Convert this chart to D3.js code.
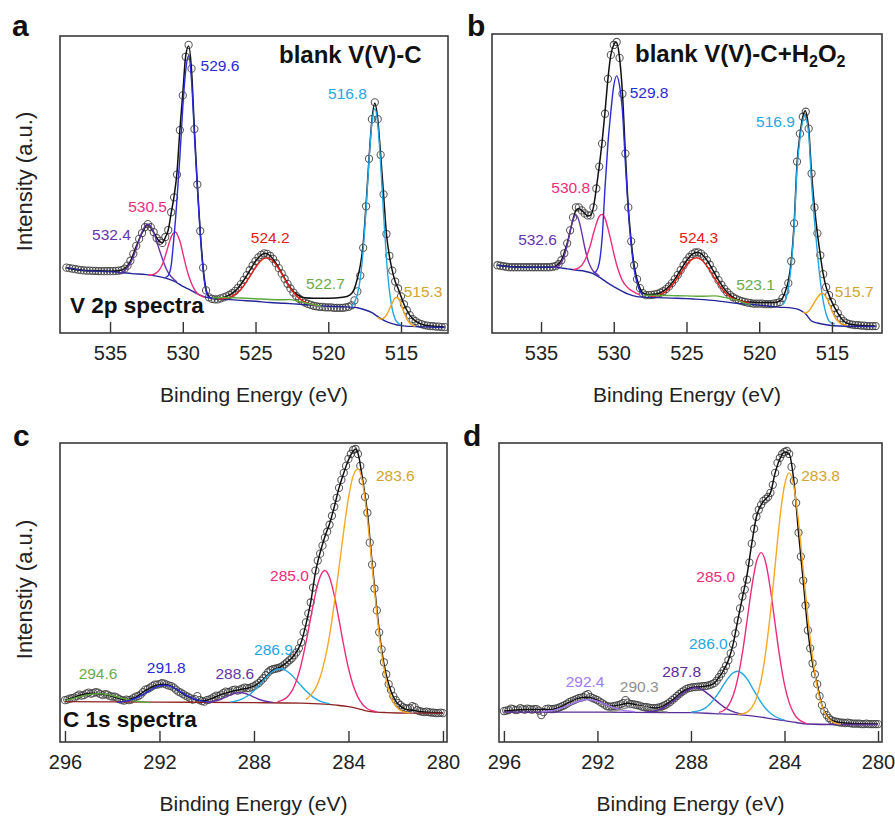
<!DOCTYPE html>
<html>
<head>
<meta charset="utf-8">
<script src="https://cdn.jsdelivr.net/npm/d3@7"></script>
<style>
  body { margin: 0; background: #fff; }
  svg text { font-family: "Liberation Sans", Arial, Helvetica, sans-serif; }
</style>
</head>
<body>
<svg id="fig" width="895" height="816"></svg>
<script>
// ---------------------------------------------------------------------------
// Axis ticks (binding energy, eV)
const v2pTicks = [535, 530, 525, 520, 515];
const c1sTicks = [296, 292, 288, 284, 280];

// Measured spectra are sampled on regular binding-energy grids.
const v2pGridStart = 538.0, v2pGridStep = 0.2;
const c1sGridStart = 296.0, c1sGridStep = 0.1;

// V 2p, blank V(V)-C : counts (a.u.) from 538.0 eV down to 512.0 eV
const blankV2pMeasured = [
  66, 65.5, 65, 64.5, 64, 63.5, 63.2, 63, 63, 62.8,            // 538.0
  62.8, 62.6, 62.5, 62.5, 62.5, 62.5, 62.5, 62.7, 63, 63.5,    // 536.0
  65, 68, 73, 80, 88, 95, 101, 107, 110, 107,                  // 534.0
  102, 96, 93, 91, 97, 104, 122, 137, 160, 205,                // 532.0
  240, 279, 291, 267, 206, 150, 103, 66, 43, 36,               // 530.0
  34.5, 34, 34, 35, 36, 37, 38.4, 40.2, 42.6, 45.7,            // 528.0
  49.4, 53.7, 58.4, 63.4, 68.2, 72.7, 76.4, 78.9, 80.5, 80,    // 526.0
  78, 75, 70.5, 65.5, 60.2, 54.8, 49.7, 45, 40.9, 37.4,        // 524.0
  34.6, 32.4, 30.7, 29.4, 28.5, 27.5, 27, 26.5, 26.5, 26,      // 522.0
  26, 26, 25.5, 25.5, 25.5, 25.5, 26, 26.5, 28, 33,            // 520.0
  42, 58, 86, 128, 176, 216, 233, 216, 180, 140,               // 518.0
  100, 78, 63, 52, 45, 37, 29, 23, 18, 14,                     // 516.0
  12, 10, 9, 8, 7.5, 7, 7, 6.5, 6.5, 6,                        // 514.0
  6                                                            // 512.0
];

// V 2p, blank V(V)-C + H2O2
const h2o2V2pMeasured = [
  68, 67.5, 67, 66.5, 66, 66, 66, 66, 66, 66,                  // 538.0
  66, 66, 66, 66, 66, 66, 66, 66, 66, 66.5,                    // 536.0
  67, 69, 73, 80, 90, 103, 116, 126, 126, 123,                 // 534.0
  120, 118, 118, 126, 145, 167, 190, 220, 255, 279,            // 532.0
  289, 292, 276, 240, 180, 126, 92, 68, 54, 45,                // 530.0
  40, 38, 38, 38.3, 38.8, 39.3, 40.4, 41.9, 44, 46.7,          // 528.0
  50, 54, 58.4, 63.2, 68, 72.5, 76.3, 79.2, 80.8, 81,          // 526.0
  79.6, 76.9, 73.1, 68.5, 63.4, 58.2, 53, 48.4, 44.3, 40.9,    // 524.0
  38, 35.9, 34.2, 32.9, 31.9, 31.3, 30.5, 30, 29.5, 29.5,      // 522.0
  29.5, 29.5, 29, 29, 29, 29.5, 30, 31, 35, 42,                // 520.0
  50, 72, 110, 172, 200, 217, 222, 205, 160, 126,              // 518.0
  100, 78, 59, 46, 38, 31, 25, 20, 15, 12,                     // 516.0
  10, 9, 8.5, 8, 8, 7.5, 7.5, 7, 7, 7,                         // 514.0
  7                                                            // 512.0
];

// C 1s, blank : counts (a.u.) from 296.0 eV down to 280.0 eV, every 0.1 eV
const blankC1sMeasured = [
  42, 42.5, 43.5, 44, 44.5, 46, 47.5, 46.5, 47, 48.5,          // 296.0
  49.5, 48.5, 49, 50, 49.5, 48, 47, 48, 47.5, 46,              // 295.0
  45.5, 45.5, 44.5, 43, 42, 41.5, 42.5, 42, 42.5, 44,          // 294.0
  45.5, 46, 47.5, 50, 52.5, 53, 54.5, 56, 57.5, 57.5,          // 293.0
  58, 59, 58.5, 57.5, 56.5, 56, 54.5, 52.5, 50.5, 49.5,        // 292.0
  48, 46.5, 45.5, 44, 42.5, 43, 46, 42, 41, 40.5,              // 291.0
  42, 42.5, 43.5, 45, 46.5, 46, 47.5, 49, 50.5, 50,            // 290.0
  50.5, 52, 52.5, 51.5, 52.5, 53.5, 54.5, 54, 54, 55,          // 289.0
  56, 57.5, 59, 61.5, 64, 67, 70, 72, 73, 73.5,                // 288.0
  74, 75, 76, 78, 80, 82, 84, 87, 90, 94,                      // 287.0
  100, 110, 120, 129, 140, 155, 172, 182, 189, 197,            // 286.0
  205, 211, 218, 227, 236, 245, 255, 263, 270, 277,            // 285.0
  284, 289, 293, 294, 289, 277, 262, 246, 230, 200,            // 284.0
  178, 154, 132, 110, 93, 80, 68, 58, 52, 46,                  // 283.0
  42, 39, 37, 35, 34, 33.5, 34, 36, 35, 32,                    // 282.0
  31, 30.5, 30, 30.5, 30, 29.5, 29.5, 29, 29, 29.5,            // 281.0
  29                                                           // 280.0
];

// C 1s, + H2O2
const h2o2C1sMeasured = [
  31, 31.5, 32, 33.5, 33, 32, 32.5, 34, 33, 32.5,              // 296.0
  33.5, 33, 32.5, 33, 33, 31.5, 27, 30, 33, 33.5,              // 295.0
  33, 33, 33.5, 34, 35, 36, 37, 38.5, 40, 41,                  // 294.0
  42, 43, 44, 44.5, 45, 47, 48, 45, 44, 43,                    // 293.0
  42, 40.5, 39, 37.5, 36, 35.5, 35.5, 36, 36.5, 37,            // 292.0
  38, 39, 42, 39.5, 38, 38, 37.5, 37, 36.5, 35.5,              // 291.0
  35, 35, 34.5, 34, 34, 34, 34.5, 35, 36, 37,                  // 290.0
  38.5, 40, 42, 44, 46, 48, 50, 51.5, 53, 54,                  // 289.0
  54.5, 55, 55, 55.5, 55.5, 56, 56, 56.5, 57, 58,              // 288.0
  59, 61.5, 65, 68.5, 72, 76.5, 82, 89, 98, 109,               // 287.0
  122, 134, 146, 153, 163, 180, 199, 214, 226, 233,            // 286.0
  238, 242, 244, 246, 250, 258, 270, 280, 285, 289,            // 285.0
  291, 292, 289, 276, 262, 240, 210, 186, 162, 137,            // 284.0
  112, 94, 79, 68, 58, 46, 37, 31, 27, 24,                     // 283.0
  22, 21, 20.5, 20, 19.5, 19.5, 19, 19.5, 19, 18.5,            // 282.0
  18.5, 18.5, 18.5, 18, 18, 18.5, 18, 18, 18, 18,              // 281.0
  18                                                           // 280.0
];

// Fit envelopes [binding energy, counts]
const blankV2pEnvelope = [[538.0,66],[537.0,63.5],[536.0,62.8],[535.0,62.5],[534.4,63],[534.0,65],[533.6,72.5],[533.2,87.5],[532.8,101],[532.4,109.5],[532.0,101.5],[531.6,92.5],[531.4,91],[531.2,96.5],[531.0,104],[530.8,121],[530.6,138],[530.4,162],[530.2,205],[530.0,242],[529.8,280],[529.6,290],[529.4,266],[529.2,205],[529.0,150],[528.8,102],[528.6,66],[528.4,44],[528.2,37],[528.0,35],[527.6,34.5],[527.0,37],[526.6,40],[526.2,45.5],[525.8,53.5],[525.4,63],[525.0,72.5],[524.6,79],[524.3,80.5],[524.0,78],[523.6,70.5],[523.2,60.5],[522.8,50],[522.4,42],[522.0,37.5],[521.6,35.5],[521.0,35],[520.0,35],[519.0,36],[518.5,38.5],[518.2,45],[518.0,55],[517.8,68],[517.6,90],[517.4,130],[517.2,176],[517.0,215],[516.8,232],[516.6,216],[516.4,180],[516.2,140],[516.0,100],[515.8,78],[515.6,63],[515.4,52],[515.2,45],[515.0,37],[514.8,29],[514.6,23],[514.4,18],[514.0,12],[513.6,9],[513.0,7],[512.0,6]];

const h2o2V2pEnvelope = [[538.0,68],[537.0,66.5],[536.0,66],[535.0,66],[534.2,66],[534.0,67],[533.6,73],[533.2,90],[532.8,114],[532.6,123],[532.4,125],[532.2,123],[532.0,120],[531.8,117.5],[531.6,118],[531.4,126],[531.2,145],[531.0,167],[530.8,192],[530.6,222],[530.4,255],[530.2,279],[530.0,289],[529.85,292],[529.6,276],[529.4,240],[529.2,180],[529.0,126],[528.8,92],[528.6,68],[528.4,54],[528.2,45],[528.0,40],[527.6,38.5],[527.0,39.3],[526.6,42],[526.2,46.7],[525.8,54],[525.4,63.2],[525.0,72.5],[524.6,79.2],[524.25,81],[524.0,79.6],[523.6,73.1],[523.2,63.4],[522.8,53],[522.4,44.3],[522.0,38],[521.6,34.2],[521.2,32],[520.6,31],[520.0,30.5],[519.0,30.5],[518.6,32],[518.4,35],[518.2,42],[518.0,52],[517.8,72],[517.6,110],[517.4,170],[517.2,199],[517.0,217],[516.85,223],[516.6,205],[516.4,160],[516.2,126],[516.0,100],[515.8,78],[515.6,59],[515.4,46],[515.2,38],[515.0,31],[514.6,20],[514.2,12],[513.8,9],[513.0,7.5],[512.0,7]];

const blankC1sEnvelope = [[296.0,42],[295.6,45],[295.2,48],[294.8,49],[294.4,48],[294.0,46],[293.6,43],[293.4,42.5],[293.0,45],[292.6,51.5],[292.2,56.5],[291.9,58],[291.6,57],[291.2,51.5],[290.8,45.5],[290.4,42],[290.1,41.5],[289.8,43.5],[289.4,47.5],[289.0,50.5],[288.6,52.5],[288.2,54.5],[288.0,56],[287.6,63],[287.2,72],[286.9,75],[286.6,80],[286.3,87],[286.0,100],[285.8,118],[285.6,140],[285.4,170],[285.2,190],[285.0,206],[284.8,219],[284.6,236],[284.4,255],[284.2,270],[284.0,283],[283.8,292],[283.7,294],[283.6,290],[283.4,263],[283.2,230],[283.0,180],[282.8,133],[282.6,93],[282.4,67],[282.2,51],[282.0,41],[281.8,36],[281.6,33],[281.2,31.5],[280.8,30],[280.0,29]];

const h2o2C1sEnvelope = [[296.0,31],[295.0,32.5],[294.0,32.5],[293.6,35],[293.2,40],[292.8,44],[292.5,45],[292.2,44],[291.8,39.5],[291.4,36],[291.0,37.5],[290.7,39],[290.3,37],[289.8,34.5],[289.5,34],[289.2,36],[288.8,42],[288.4,50],[288.0,54.5],[287.6,55.5],[287.2,57],[287.0,59],[286.8,65],[286.6,72],[286.4,82],[286.2,98],[286.0,122],[285.8,145],[285.6,168],[285.4,199],[285.2,226],[285.0,238],[284.8,244],[284.6,250],[284.4,270],[284.2,284],[284.0,291],[283.8,289],[283.6,262],[283.4,210],[283.2,162],[283.0,112],[282.8,79],[282.6,58],[282.4,37],[282.2,27],[282.0,22],[281.6,19.5],[281.0,18.5],[280.0,18]];

// Fitted peak components: centre (eV) and the component curve [eV, counts]
const blankV2pCenters = [532.4, 530.5, 529.6, 524.2, 522.7, 516.8, 515.3];
const blankV2pCurves = [
  [[534.4,60],[534.0,63],[533.8,66],[533.6,70.5],[533.4,77],[533.2,85],[533.0,94],[532.8,102],[532.6,108],[532.4,110],[532.2,108],[532.0,101.5],[531.8,93],[531.6,83.5],[531.4,75],[531.2,67],[531.0,61],[530.8,57],[530.6,54],[530.4,51.5]],
  [[532.4,59],[532.2,58.5],[531.8,61],[531.6,64],[531.4,69.5],[531.2,78],[531.0,88],[530.8,97],[530.6,101.5],[530.5,102],[530.4,100],[530.2,93],[530.0,81],[529.8,68.5],[529.6,58],[529.4,50],[529.2,44],[529.0,40],[528.8,38],[528.5,36]],
  [[531.2,56],[531.0,58],[530.8,68],[530.6,98],[530.5,115],[530.4,135],[530.2,178],[530.0,228],[529.8,265],[529.6,280],[529.4,255],[529.2,200],[529.0,147],[528.8,100],[528.6,63],[528.4,42],[528.2,36],[528.0,35]],
  [[527.6,34.4],[527.2,34.7],[526.8,36],[526.4,39],[526.0,44.3],[525.6,52.2],[525.2,61.6],[524.8,70.2],[524.4,75.4],[524.2,75.9],[524.0,75],[523.6,69.2],[523.2,59.8],[522.8,49.6],[522.4,41.1],[522.0,35],[521.6,31.2],[521.2,29.3],[520.8,27.8]],
  [[528.0,35.5],[527.0,35.8],[526.0,35.3],[525.0,34.6],[524.0,33.8],[523.4,33.6],[522.7,33.7],[522.0,31.8],[521.5,30],[521.0,28.5],[520.5,27.3]],
  [[518.4,26.5],[518.2,31],[518.0,39],[517.8,55],[517.6,84],[517.4,126],[517.2,174],[517.0,212],[516.8,226.5],[516.6,211],[516.4,171],[516.2,120],[516.0,75],[515.8,43],[515.6,24],[515.4,14],[515.2,10],[515.0,8]],
  [[516.6,16],[516.4,14],[516.2,15],[516.0,18],[515.8,24],[515.6,30.4],[515.4,35.5],[515.3,36],[515.2,35.3],[515.0,29.4],[514.8,21.3],[514.6,14],[514.4,10],[514.2,7.8],[514.0,6.7]]
];
const blankV2pBackground = [[538.0,66],[537.0,63.5],[536.0,62.5],[535.0,62],[534.2,61],[533.5,60],[532.5,59],[531.8,57.5],[531.2,55.5],[530.6,52.5],[530.0,47],[529.5,43.5],[529.0,39.5],[528.5,36.5],[528.0,35],[527.0,34],[526.0,33],[525.0,32],[524.0,30.8],[523.0,30],[522.0,29],[521.0,28],[520.0,27],[519.0,26.5],[518.0,25.5],[517.5,23.5],[517.0,20.5],[516.5,15.5],[516.0,11.5],[515.5,9],[515.0,7.5],[514.0,6.5],[513.0,6],[512.0,5.5]];

const h2o2V2pCenters = [532.6, 530.8, 529.8, 524.3, 523.1, 516.9, 515.7];
const h2o2V2pCurves = [
  [[534.2,66],[534.0,66],[533.8,67.5],[533.6,70.5],[533.4,77.5],[533.2,88.5],[533.0,102],[532.8,113.5],[532.6,118.5],[532.4,113],[532.2,100.7],[532.0,86.3],[531.8,74.4],[531.6,66.7],[531.4,62],[531.2,59.6],[531.0,57]],
  [[532.8,63.5],[532.4,65.3],[532.0,72.5],[531.8,79.5],[531.6,88.5],[531.4,99.8],[531.2,109.5],[531.0,117],[530.8,119],[530.6,115],[530.4,105],[530.2,93],[530.0,80],[529.8,68.5],[529.6,59.5],[529.4,52.5],[529.2,48],[529.0,45],[528.6,41],[528.2,38]],
  [[531.4,60],[531.2,62],[531.0,70],[530.8,95],[530.6,146],[530.4,190],[530.2,222],[530.0,248],[529.8,258],[529.6,248],[529.4,222],[529.2,170],[529.0,122],[528.8,88],[528.6,64],[528.4,50],[528.2,42],[528.0,38]],
  [[527.5,36.7],[527.1,37.3],[526.7,39.3],[526.3,43.1],[525.9,49.4],[525.5,57.7],[525.1,66.4],[524.7,73.1],[524.3,75.5],[523.9,72.5],[523.5,65.2],[523.1,55.7],[522.7,46.8],[522.3,39.9],[521.9,35.5],[521.5,32.9],[521.1,31.5],[520.7,30.6]],
  [[528.0,38],[527.0,37.8],[526.0,37.5],[525.0,37.2],[524.0,36.8],[523.1,37.2],[522.4,35.8],[522.0,34.5],[521.5,33],[521.0,30],[520.6,28.5]],
  [[518.4,28],[518.2,33],[518.0,45],[517.8,68],[517.6,106],[517.4,165],[517.2,195],[517.0,213],[516.9,218],[516.8,216],[516.6,200],[516.4,150],[516.2,112],[516.0,80],[515.8,52],[515.6,32],[515.4,19],[515.2,12],[515.0,10],[514.8,9]],
  [[517.0,21],[516.8,20],[516.6,22],[516.4,26],[516.2,31],[516.0,35.5],[515.8,39],[515.7,40],[515.6,39.5],[515.4,36],[515.2,30],[515.0,22],[514.8,16],[514.6,12],[514.4,9.5],[514.2,8.5],[514.0,8]]
];
const h2o2V2pBackground = [[538.0,68],[537.5,67],[537.0,66.5],[536.0,66],[535.0,66],[534.2,66],[533.5,65],[533.0,64],[532.5,63],[532.0,62],[531.5,60],[531.0,56],[530.5,51],[530.0,46.5],[529.5,42.5],[529.0,39],[528.4,36.5],[528.0,36],[527.0,35.5],[526.0,35],[525.0,34.5],[524.4,34],[523.0,32.5],[522.0,30.5],[521.7,30],[520.0,28],[518.7,26],[517.7,25],[517.2,23],[516.8,19],[516.4,12],[516.0,10],[515.3,8],[514.5,7],[512.0,6.5]];

const blankC1sCenters = [294.6, 291.8, 288.6, 286.9, 285.0, 283.6];
const blankC1sCurves = [
  [[296.0,41.8],[295.8,42.8],[295.6,44],[295.4,45.3],[295.2,46.5],[295.0,47.5],[294.8,48.3],[294.6,48.5],[294.4,48.3],[294.2,47.5],[294.0,46.5],[293.8,45.3],[293.6,44],[293.4,42.8],[293.2,41.8],[293.0,41],[292.8,40.4],[292.6,40],[292.4,39.7]],
  [[293.8,39.9],[293.6,40.3],[293.4,41],[293.2,42.2],[293.0,43.9],[292.8,46.2],[292.6,49],[292.4,51.9],[292.2,54.5],[292.0,56.3],[291.8,57],[291.6,56.3],[291.4,54.5],[291.2,51.9],[291.0,49],[290.8,46.2],[290.6,43.9],[290.4,42.2],[290.2,41],[290.0,40.3],[289.8,39.9]],
  [[290.0,39.8],[289.8,40.4],[289.6,41.4],[289.4,42.9],[289.2,45],[289.0,47.2],[288.8,48.9],[288.6,49.5],[288.4,48.9],[288.2,47.2],[288.0,45],[287.8,42.9],[287.6,41.4],[287.4,40.4],[287.2,39.8]],
  [[289.0,40],[288.8,41],[288.6,42.3],[288.4,44.4],[288.2,47.4],[288.0,51.5],[287.8,56.4],[287.6,61.8],[287.4,66.9],[287.2,71],[287.0,73.2],[286.9,73.5],[286.8,73.2],[286.6,71],[286.4,66.9],[286.2,61.8],[286.0,56.4],[285.8,51.3],[285.6,47],[285.4,43.5],[285.2,41],[285.0,39.5],[284.8,38.5]],
  [[287.0,40.4],[286.8,42],[286.6,45],[286.4,51],[286.2,61.6],[286.0,78],[285.8,99.6],[285.6,124.6],[285.4,148.4],[285.2,165.8],[285.0,172],[284.8,165],[284.6,147],[284.4,122.5],[284.2,96.8],[284.0,74],[283.8,56.6],[283.6,45],[283.4,37.6],[283.2,33.4],[283.0,31.4],[282.8,30]],
  [[285.8,42.6],[285.6,47],[285.4,53.5],[285.2,65],[285.0,82.6],[284.8,107],[284.6,139],[284.4,175],[284.2,212],[284.0,245],[283.8,267],[283.6,274],[283.4,260],[283.2,224],[283.0,176.5],[282.8,129],[282.6,89.5],[282.4,62],[282.2,45],[282.0,36],[281.8,31.7],[281.6,30],[281.4,29]]
];
const blankC1sBackground = [[296.0,40.5],[292.0,40],[288.0,39.5],[286.0,39],[285.0,38],[284.5,37],[284.0,35.5],[283.6,33.5],[283.2,31],[282.8,30],[282.4,29.5],[281.5,29],[280.0,29]];

const h2o2C1sCenters = [292.4, 290.3, 287.8, 286.0, 285.0, 283.8];
const h2o2C1sCurves = [
  [[294.4,30.4],[294.2,30.8],[294.0,31.4],[293.8,32.3],[293.6,33.6],[293.4,35.3],[293.2,37.2],[293.0,39.2],[292.8,40.9],[292.6,42.1],[292.4,42.5],[292.2,42.1],[292.0,40.9],[291.8,39.2],[291.6,37.2],[291.4,35.3],[291.2,33.6],[291.0,32.3],[290.8,31.4],[290.6,30.8],[290.4,30.4]],
  [[291.6,30.2],[291.3,31],[291.0,32.6],[290.7,34.6],[290.5,35.5],[290.3,35.8],[290.1,35.5],[289.9,34.6],[289.6,32.6],[289.3,31],[289.0,30.2]],
  [[290.0,29.9],[289.8,30.3],[289.6,31],[289.4,32.3],[289.2,34.1],[289.0,36.7],[288.8,40.1],[288.6,43.9],[288.4,47.8],[288.2,51.3],[288.0,53.7],[287.8,54.5],[287.6,53.2],[287.4,50.6],[287.2,47],[287.0,42.9],[286.8,38.9],[286.6,35.3],[286.4,32.5],[286.2,30.5],[286.0,29],[285.8,27.8]],
  [[288.0,30],[287.8,30.6],[287.6,31.7],[287.4,34],[287.2,37.8],[287.0,43.2],[286.8,50],[286.6,57.5],[286.4,64.4],[286.2,69.3],[286.0,71],[285.8,68.6],[285.6,63.3],[285.4,55.4],[285.2,47.2],[285.0,39.7],[284.8,33.4],[284.6,28.9],[284.4,25.6],[284.2,23.5],[284.0,22.1]],
  [[286.8,29.7],[286.6,31.6],[286.4,36.4],[286.2,46.3],[286.0,63.5],[285.8,89.4],[285.6,122],[285.4,155.4],[285.2,180.8],[285.0,190],[284.8,179.6],[284.6,153],[284.4,118.3],[284.2,84.6],[284.0,57.5],[283.8,39.5],[283.6,28.7],[283.4,22.8],[283.2,20],[283.0,18]],
  [[286.0,27.6],[285.8,28.2],[285.6,30],[285.4,34.5],[285.2,44],[285.0,62],[284.8,91],[284.6,130],[284.4,177.5],[284.2,224],[284.0,257.5],[283.8,270],[283.6,256.5],[283.4,221.5],[283.2,173.5],[283.0,125],[282.8,85],[282.6,55],[282.4,36.5],[282.2,26],[282.0,21],[281.8,18.7],[281.6,17.8]]
];
const h2o2C1sBackground = [[296.0,30],[292.0,30],[289.0,29.5],[288.0,29.5],[287.0,28.5],[286.0,27.5],[285.5,26.5],[285.0,25],[284.5,23],[284.0,21.5],[283.5,19.5],[283.0,18],[282.0,17.5],[280.0,17.5]];

// ---------------------------------------------------------------------------
// Styling and layout
const C = {
  purple: "#6534a8", pink: "#ec2d7a", blue: "#2b2bd2", red: "#e8201a",
  green: "#5ca83a", lightblue: "#26a6e2", gold: "#f0a51e", orange: "#f7a824",
  lpurple: "#a478f0", gray: "#8f8f8f", dpurple: "#5a2d9a"
};
const LABEL_TINT = { "#f0a51e": "#d4a32e", "#f7a824": "#d4a32e", "#5ca83a": "#6aab48" };

const panels = [
  {
    key: "a", left: 60, right: 448, top: 36, bottom: 333, xDomain: [538.44, 511.77],
    ticks: v2pTicks, start: v2pGridStart, step: v2pGridStep, measured: blankV2pMeasured, envelope: blankV2pEnvelope,
    centers: blankV2pCenters, curves: blankV2pCurves, background: blankV2pBackground, bgColor: "#25259a",
    colors: [C.purple, C.pink, C.blue, C.red, C.green, C.lightblue, C.gold],
    labels: [["end",-17,16],["end",-8.5,-20],["start",12,15],["middle",3,-15],["start",17,-11],["end",-8,-10],["start",7,0]],
    letter: [12, 36, "a"], yTitle: "Intensity (a.u.)"
  },
  {
    key: "b", left: 492, right: 882, top: 34, bottom: 333, xDomain: [538.37, 511.56],
    ticks: v2pTicks, start: v2pGridStart, step: v2pGridStep, measured: h2o2V2pMeasured, envelope: h2o2V2pEnvelope,
    centers: h2o2V2pCenters, curves: h2o2V2pCurves, background: h2o2V2pBackground, bgColor: "#25259a",
    colors: [C.purple, C.pink, C.blue, C.red, C.green, C.lightblue, C.gold],
    labels: [["end",-19,30],["end",-12,-21],["start",13,22],["middle",2,-15],["start",22,-6],["end",-9.5,11],["start",13,4]],
    letter: [467, 36, "b"], yTitle: null
  },
  {
    key: "c", left: 60, right: 447, top: 443, bottom: 742, xDomain: [296.21, 279.83],
    ticks: c1sTicks, start: c1sGridStart, step: c1sGridStep, measured: blankC1sMeasured, envelope: blankC1sEnvelope,
    centers: blankC1sCenters, curves: blankC1sCurves, background: blankC1sBackground, bgColor: "#8e2424",
    colors: [C.green, C.blue, C.purple, C.lightblue, C.pink, C.orange],
    labels: [["middle",0,-15],["middle",2,-12],["middle",-5,-14],["middle",-6.5,-14],["end",-16,10.5],["start",18,12]],
    letter: [13, 446, "c"], yTitle: "Intenstiy (a.u.)"
  },
  {
    key: "d", left: 499, right: 882, top: 443, bottom: 742, xDomain: [296.21, 279.83],
    ticks: c1sTicks, start: c1sGridStart, step: c1sGridStep, measured: h2o2C1sMeasured, envelope: h2o2C1sEnvelope,
    centers: h2o2C1sCenters, curves: h2o2C1sCurves, background: h2o2C1sBackground, bgColor: "#5b2e98",
    colors: [C.lpurple, C.gray, C.dpurple, C.lightblue, C.pink, C.orange],
    labels: [["middle",-3,-13],["middle",2,-14],["middle",-14,-11],["end",-10,-22],["end",-26,29],["start",12,8]],
    letter: [463, 446, "d"], yTitle: null
  }
];

const svg = d3.select("#fig");
const fmt1 = d3.format(".1f");

panels.forEach(p => {
  const x = d3.scaleLinear().domain(p.xDomain).range([p.left, p.right]);
  const y = d3.scaleLinear().domain([0, 300]).range([p.bottom, p.top]);
  const line = d3.line().x(d => x(d[0])).y(d => y(d[1])).curve(d3.curveMonotoneX);

  const clipId = "clip-" + p.key;
  svg.append("clipPath").attr("id", clipId).append("rect")
    .attr("x", p.left).attr("y", p.top).attr("width", p.right - p.left).attr("height", p.bottom - p.top);

  const plot = svg.append("g").attr("clip-path", `url(#${clipId})`);

  // measured points (open circles)
  const pts = p.measured.map((v, i) => [+(p.start - i * p.step).toFixed(1), v]);
  plot.append("g").selectAll("circle").data(pts).join("circle")
    .attr("cx", d => x(d[0])).attr("cy", d => y(d[1])).attr("r", 3.6)
    .attr("fill", "none").attr("stroke", "#3c3c3c").attr("stroke-width", 1.05).attr("stroke-opacity", 0.85);

  // fit envelope
  plot.append("path").datum(p.envelope).attr("d", line)
    .attr("fill", "none").attr("stroke", "#111").attr("stroke-width", 1.5);

  // background
  plot.append("path").datum(p.background).attr("d", line)
    .attr("fill", "none").attr("stroke", p.bgColor).attr("stroke-width", 1.4);

  // components
  p.curves.forEach((c, i) => {
    plot.append("path").datum(c).attr("d", line)
      .attr("fill", "none").attr("stroke", p.colors[i]).attr("stroke-width", 1.4);
  });

  // peak labels, anchored at each component's maximum
  p.centers.forEach((e, i) => {
    const peak = p.curves[i].find(d => d[0] === e);
    const [anchor, dx, dy] = p.labels[i];
    const col = LABEL_TINT[p.colors[i]] || p.colors[i];
    svg.append("text").attr("x", x(e) + dx).attr("y", y(peak[1]) + dy)
      .attr("text-anchor", anchor).attr("font-size", 15.5).attr("fill", col)
      .text(fmt1(e));
  });

  // axis (ticks point inward)
  svg.append("g").attr("transform", `translate(0,${p.bottom})`)
    .call(d3.axisBottom(x).tickValues(p.ticks).tickSize(-11).tickSizeOuter(0).tickPadding(13).tickFormat(d3.format("d")))
    .call(g => g.select(".domain").remove())
    .call(g => g.selectAll("line").attr("stroke", "#333").attr("stroke-width", 1.4))
    .call(g => g.selectAll("text").attr("font-size", 20).attr("fill", "#222"));

  // frame
  svg.append("rect").attr("x", p.left).attr("y", p.top)
    .attr("width", p.right - p.left).attr("height", p.bottom - p.top)
    .attr("fill", "none").attr("stroke", "#3a3a3a").attr("stroke-width", 1.6);

  // x title
  svg.append("text").attr("x", (p.left + p.right) / 2).attr("y", p.bottom + 69)
    .attr("text-anchor", "middle").attr("font-size", 21).attr("fill", "#222")
    .text("Binding Energy (eV)");

  // y title
  if (p.yTitle) {
    svg.append("text").attr("transform", `translate(32,${(p.top + p.bottom) / 2 - 3}) rotate(-90)`)
      .attr("text-anchor", "middle").attr("font-size", 22).attr("fill", "#222")
      .text(p.yTitle);
  }

  // panel letter
  svg.append("text").attr("x", p.letter[0]).attr("y", p.letter[1])
    .attr("font-size", 30).attr("font-weight", "bold").attr("fill", "#111").text(p.letter[2]);
});

// panel titles
svg.append("text").attr("x", 279).attr("y", 63).attr("font-size", 24).attr("font-weight", "bold")
  .attr("fill", "#111").text("blank V(V)-C");
const tb = svg.append("text").attr("x", 635).attr("y", 62).attr("font-size", 24).attr("font-weight", "bold").attr("fill", "#111");
tb.append("tspan").text("blank V(V)-C+H");
tb.append("tspan").attr("font-size", 16).attr("dy", 5).text("2");
tb.append("tspan").attr("dy", -5).text("O");
tb.append("tspan").attr("font-size", 16).attr("dy", 5).text("2");

svg.append("text").attr("x", 70).attr("y", 313).attr("font-size", 22.5).attr("font-weight", "bold")
  .attr("fill", "#111").text("V 2p spectra");
svg.append("text").attr("x", 63).attr("y", 727).attr("font-size", 22.5).attr("font-weight", "bold")
  .attr("fill", "#111").text("C 1s spectra");
</script>
</body>
</html>
